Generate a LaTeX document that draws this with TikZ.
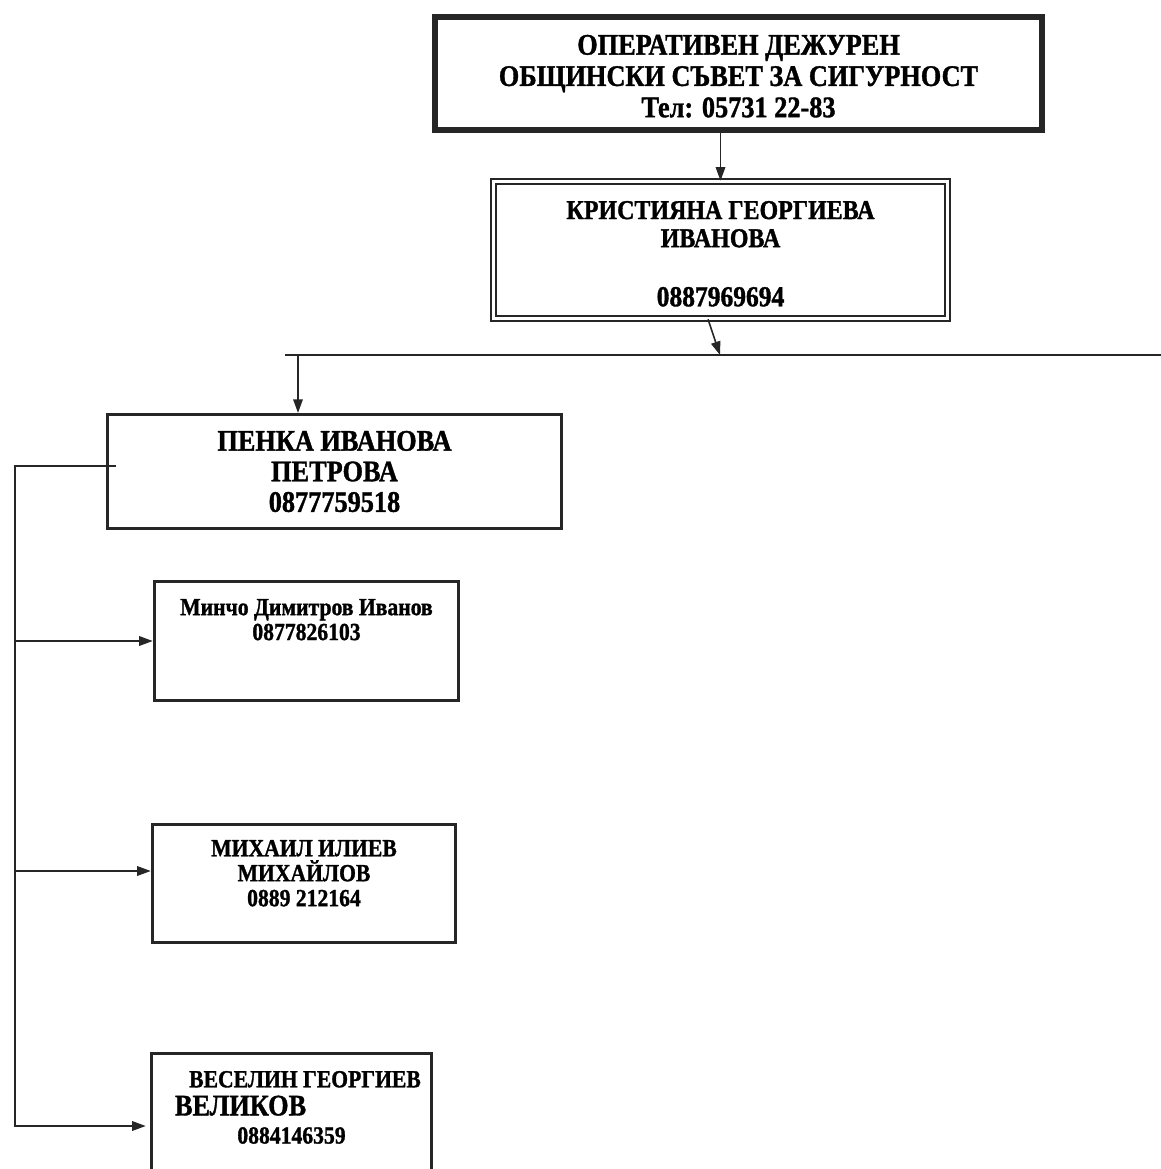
\documentclass[tikz,border=0pt]{standalone}
\usepackage{fontspec}
\setmainfont{Liberation Serif}[FakeStretch=0.88, BoldFeatures={FakeBold=1.2}]
\usetikzlibrary{arrows.meta}
\usetikzlibrary{calc}

\begin{document}
\begin{tikzpicture}[
  >={Triangle[length=0.27cm,width=0.19cm]},
  link/.style={line width=0.9pt, draw=black!85},
  dutybox/.style={draw=black!85, line width=3.4pt, inner sep=0pt, align=center,
    minimum width=12.14cm, minimum height=2.26cm, font=\bfseries\fontsize{17}{17.8}\selectfont},
  chiefbox/.style={draw=black!85, double, line width=0.9pt, double distance=1.7pt, inner sep=0pt,
    align=center, minimum width=9.08cm, minimum height=2.74cm, font=\bfseries\fontsize{15.5}{16}\selectfont},
  leadbox/.style={draw=black!85, line width=1.8pt, inner sep=0pt, align=center,
    minimum width=9.08cm, minimum height=2.28cm, font=\bfseries\fontsize{17}{17.4}\selectfont},
  card/.style={draw=black!85, line width=2pt, inner sep=0pt, font=\bfseries\fontsize{14}{14.2}\selectfont}
]

% page
\useasboundingbox (0,0) rectangle (23.22,-23.38);
\clip (0,0) rectangle (23.22,-23.38);

% draw boxes
\node[dutybox] (duty) at (14.77,-1.47) {\\[-0.12cm]ОПЕРАТИВЕН ДЕЖУРЕН\\ОБЩИНСКИ СЪВЕТ ЗА СИГУРНОСТ\\Тел: 05731 22-83};
\node[chiefbox] (chief) at (14.41,-5.0) {\\[-0.05cm]КРИСТИЯНА ГЕОРГИЕВА\\ИВАНОВА\\[0.62cm]{\fontsize{16.5}{16.5}\selectfont 0887969694}};
\node[leadbox] (lead) at (6.69,-9.43) {ПЕНКА ИВАНОВА\\ПЕТРОВА\\0877759518};
\node[card] (m1) at (6.13,-12.82) {\parbox[c][2.38cm][t]{6.08cm}{\centering\vspace*{0.35cm}Минчо Димитров Иванов\\0877826103}};
\node[card] (m2) at (6.08,-17.67) {\parbox[c][2.36cm][t]{6.06cm}{\centering\vspace*{0.31cm}МИХАИЛ ИЛИЕВ\\МИХАЙЛОВ\\0889 212164}};
\node[card] (m3) at (5.83,-22.29) {\parbox[c][2.44cm][t]{5.6cm}{\fontsize{14}{16}\selectfont\centering\vspace*{0.35cm}\makebox[\linewidth][c]{\hspace{0.54cm}ВЕСЕЛИН ГЕОРГИЕВ}\\
  \makebox[\linewidth][l]{\hspace{0.47cm}\fontsize{17}{16}\selectfont ВЕЛИКОВ}\\0884146359}};

% bus line and corners
\coordinate (busL) at (5.7,-7.1);
\coordinate (busR) at (23.4,-7.1);
\coordinate (split) at (14.4,-7.1);
\coordinate (drop) at (5.96,-7.1);
\coordinate (trunkB) at (0.3,-22.52);
\coordinate (m2in) at ($(m2.west)+(0,0.25)$);
\coordinate (m3in) at ($(m3.west)+(-0.08,-0.23)$);

% draw arrows
\draw[link] (busL) -- (busR);
\draw[link,->] (chief.north |- duty.south) -- (chief.north);
\draw[link,->] ($(chief.south)+(-0.25,0)$) -- (split);
\draw[link,->] (drop) -- (drop |- lead.north);
\draw[link,->] ($(lead.west)+(0.2,0.11)$) -| (trunkB) -- (m3in);
\draw[link,->] (m1.west -| trunkB) -- (m1.west);
\draw[link,->] (m2in -| trunkB) -- (m2in);

\end{tikzpicture}
\end{document}
